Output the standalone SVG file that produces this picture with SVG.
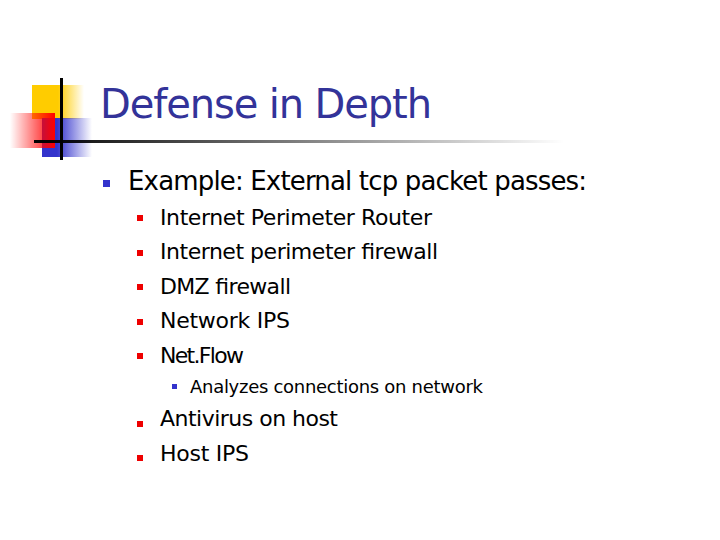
<svg xmlns="http://www.w3.org/2000/svg" width="720" height="540" viewBox="0 0 720 540">
<defs>
<linearGradient id="yel" x1="0" x2="1"><stop offset="0.5" stop-color="#ffcc00"/><stop offset="1" stop-color="#ffcc00" stop-opacity="0"/></linearGradient>
<linearGradient id="red" x1="0" x2="1"><stop offset="0" stop-color="#ff0000" stop-opacity="0"/><stop offset="1" stop-color="#ff0000"/></linearGradient>
<linearGradient id="blu" x1="0" x2="1"><stop offset="0.3" stop-color="#3333cc"/><stop offset="1" stop-color="#3333cc" stop-opacity="0"/></linearGradient>
<linearGradient id="ln" x1="0" x2="1"><stop offset="0" stop-color="#000"/><stop offset="1" stop-color="#000" stop-opacity="0"/></linearGradient>
<style>
text{font-family:"DejaVu Sans",Verdana,sans-serif;fill:#000}
.b1{fill:#3333cc}.b2{fill:#ee0000}.b3{fill:#3333cc}
</style>
</defs>
<rect x="32" y="85" width="52" height="34" fill="url(#yel)"/>
<rect x="42" y="118" width="50" height="39" fill="url(#blu)"/>
<rect x="10" y="113" width="45" height="35" fill="url(#red)"/>
<rect x="34" y="140" width="530" height="3" fill="url(#ln)"/>
<rect x="60" y="78" width="3" height="82" fill="#000"/>
<text x="100" y="118" font-size="40" fill="#333399" style="fill:#333399" textLength="332">Defense in Depth</text>
<rect class="b1" x="103" y="180" width="7" height="7"/>
<text x="128" y="190" font-size="26" textLength="459">Example: External tcp packet passes:</text>
<g font-size="22">
<rect class="b2" x="137" y="215" width="6" height="6"/><text x="160" y="225" textLength="272">Internet Perimeter Router</text>
<rect class="b2" x="137" y="250" width="6" height="6"/><text x="160" y="259" textLength="278">Internet perimeter firewall</text>
<rect class="b2" x="137" y="284" width="6" height="6"/><text x="160" y="294" textLength="131">DMZ firewall</text>
<rect class="b2" x="137" y="319" width="6" height="6"/><text x="160" y="328" textLength="130">Network IPS</text>
<rect class="b2" x="137" y="353" width="6" height="6"/><text x="160" y="363" textLength="84">Net.Flow</text>
<rect class="b2" x="137" y="421" width="6" height="6"/><text x="160" y="426" textLength="178">Antivirus on host</text>
<rect class="b2" x="137" y="455" width="6" height="6"/><text x="160" y="461" textLength="89">Host IPS</text>
</g>
<rect class="b3" x="172" y="384" width="5" height="5"/>
<text x="190" y="393" font-size="18" textLength="293">Analyzes connections on network</text>
</svg>
